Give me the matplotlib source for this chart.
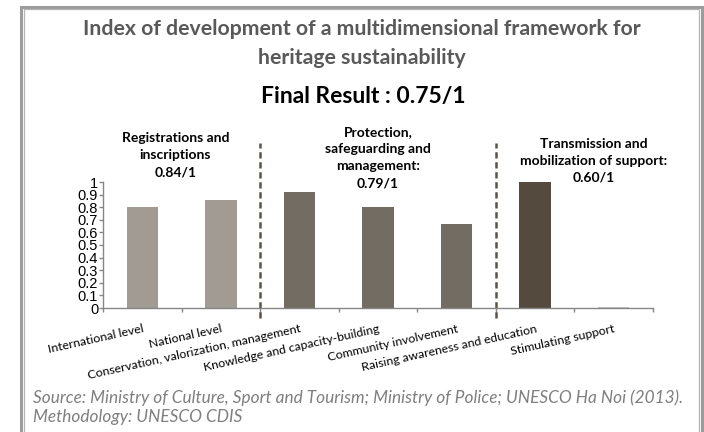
import numpy as np
import matplotlib
matplotlib.use("Agg")
import matplotlib.pyplot as plt
from matplotlib.patches import Rectangle

# Component scores (0-1) for each indicator
categories = ["International level", "National level",
              "Conservation, valorization, management",
              "Knowledge and capacity-building", "Community involvement",
              "Raising awareness and education", "Stimulating support"]
scores = [0.80, 0.86, 0.92, 0.80, 0.67, 1.00, 0.005]
bar_colors = ["#a19b94", "#a19b94", "#736c62", "#736c62", "#736c62",
              "#544b3e", "#c9c6c1"]

# Sub-dimension headings, their x centre (category units) and vertical centre
group_labels = ["Registrations and\ninscriptions\n0.84/1",
                "Protection,\nsafeguarding and\nmanagement:\n0.79/1",
                "Transmission and\nmobilization of support:\n0.60/1"]
group_x = [0.42, 3.0, 5.75]
group_y = [1.214, 1.194, 1.167]
dividers = [1.5, 4.5]

title = "Index of development of a multidimensional framework for\nheritage sustainability"
final_result = "Final Result : 0.75/1"
source = ("Source: Ministry of Culture, Sport and Tourism; Ministry of Police; UNESCO Ha Noi (2013).\n"
          "Methodology: UNESCO CDIS")

W, H = 704, 432
fig = plt.figure(figsize=(W / 100, H / 100), dpi=100)
fig.patch.set_facecolor("white")

# double grey frame
fig.add_artist(Rectangle((20.5 / W, -0.05), 681 / W, 1.05 - 6.5 / H,
                         transform=fig.transFigure, fill=False,
                         edgecolor="#9c9c9c", lw=2.2))
fig.add_artist(Rectangle((23.5 / W, -0.05), 675 / W, 1.05 - 9 / H,
                         transform=fig.transFigure, fill=False,
                         edgecolor="#b4b4b4", lw=0.9))

ax = fig.add_axes([103 / W, 1 - 308 / H, 550 / W, 126 / H])
x = np.arange(len(categories))
ax.bar(x, scores, width=0.4, color=bar_colors)

ax.set_xlim(-0.5, len(categories) - 0.5)
ax.set_ylim(0, 1)
for side in ("top", "right"):
    ax.spines[side].set_visible(False)
for side in ("left", "bottom"):
    ax.spines[side].set_color("#868686")
    ax.spines[side].set_linewidth(1)

ax.set_yticks(np.arange(0, 1.01, 0.1))
ax.set_yticklabels(["0"] + [f"{v:.1f}" for v in np.arange(0.1, 0.95, 0.1)] + ["1"],
                   fontfamily="Liberation Sans", fontsize=10.5)
ax.tick_params(axis="y", direction="out", length=3, width=1, color="#868686", pad=0.5)

ax.set_xticks(x)
ax.set_xticklabels(categories, rotation=12.5, ha="right", va="top",
                   rotation_mode="anchor", fontfamily="Lato", fontsize=8.9)
ax.set_xticks(np.arange(-0.5, len(categories), 1), minor=True)
ax.tick_params(axis="x", which="major", length=0, pad=11)
ax.tick_params(axis="x", which="minor", direction="out", length=3, width=1,
               color="#868686")

# dashed separators between sub-dimensions
for d in dividers:
    ax.plot([d, d], [-0.08, 1.31], ls=(0, (2.5, 1.5)), lw=1.8,
            color="#5b5347", clip_on=False)

for lbl, gx, gy in zip(group_labels, group_x, group_y):
    ax.text(gx, gy, lbl, ha="center", va="center", fontfamily="Lato",
            fontweight="bold", fontsize=10, linespacing=1.5, clip_on=False)

fig.text(362 / W, 1 - 43.5 / H, title, ha="center", va="center",
         fontfamily="Lato", fontweight="bold", fontsize=15.3,
         color="#595959", linespacing=1.55)
fig.text(363 / W, 1 - 96 / H, final_result, ha="center", va="center",
         fontfamily="Lato", fontweight="bold", fontsize=16.5, color="black")
fig.text(33 / W, 1 - 407 / H, source, ha="left", va="center",
         fontfamily="Lato", fontstyle="italic", fontsize=12.4,
         color="#7f7f7f", linespacing=1.25)

fig.savefig("out.png", dpi=100, facecolor="white")
